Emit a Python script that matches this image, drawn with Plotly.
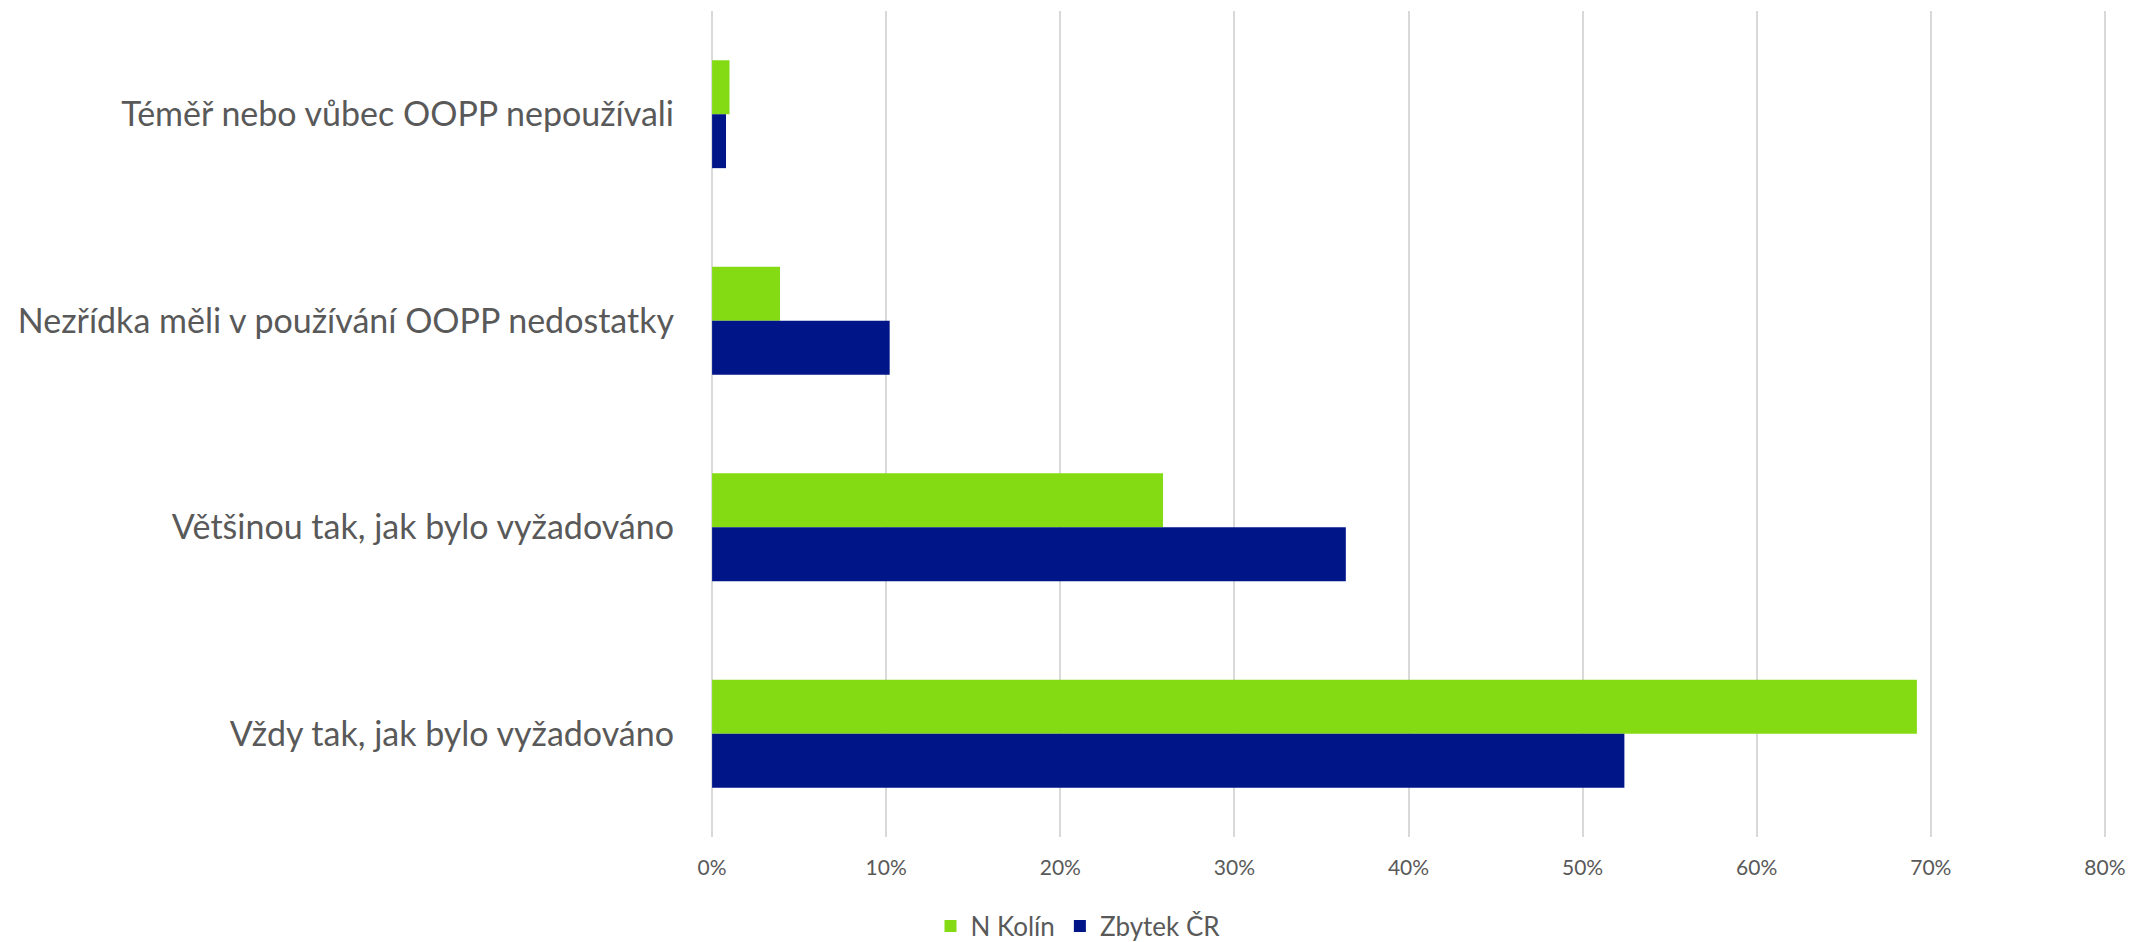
import plotly.graph_objects as go

categories = [
    "Téměř nebo vůbec OOPP nepoužívali",
    "Nezřídka měli v používání OOPP nedostatky",
    "Většinou tak, jak bylo vyžadováno",
    "Vždy tak, jak bylo vyžadováno",
]
n_kolin = [1.0, 3.9, 25.9, 69.2]
zbytek_cr = [0.8, 10.2, 36.4, 52.4]
tick_values = [0, 10, 20, 30, 40, 50, 60, 70, 80]
tick_labels = ["0%", "10%", "20%", "30%", "40%", "50%", "60%", "70%", "80%"]

GREEN = "#84DB14"
NAVY = "#001688"
TEXT = "#595959"
GRID = "#D9D9D9"
FONT = "Lato"

fig = go.Figure()
fig.add_trace(go.Bar(y=categories, x=n_kolin, name="N Kolín", orientation="h",
                     marker=dict(color=GREEN, line=dict(width=0))))
fig.add_trace(go.Bar(y=categories, x=zbytek_cr, name="Zbytek ČR", orientation="h",
                     marker=dict(color=NAVY, line=dict(width=0))))

W, H = 2131, 942
L, R, T, B = 710, 24, 11, 105
plot_w = W - L - R
plot_h = H - T - B

fig.update_layout(
    width=W, height=H,
    margin=dict(l=L, r=R, t=T, b=B, autoexpand=False),
    paper_bgcolor="white", plot_bgcolor="white",
    barmode="group", bargap=0.478, bargroupgap=0,
    font=dict(family=FONT, color=TEXT),
    showlegend=True,
    legend=dict(orientation="h", x=(1078 - L) / plot_w, xanchor="center",
                y=(T + plot_h - 926) / plot_h, yanchor="middle",
                font=dict(size=26, color=TEXT, family=FONT),
                traceorder="normal"),
    xaxis=dict(range=[-0.12, 80.12], tickvals=tick_values, ticktext=tick_labels,
               showgrid=True, gridcolor=GRID, gridwidth=1.5,
               zeroline=False, showline=False, ticks="",
               tickfont=dict(size=21, color=TEXT, family=FONT),
               ticklabelstandoff=16, fixedrange=True),
    yaxis=dict(autorange=False, range=[3.5, -0.5], categoryorder="array",
               categoryarray=categories, showgrid=False, zeroline=False,
               showline=False, ticks="",
               tickfont=dict(size=34, color=TEXT, family=FONT),
               ticklabelstandoff=35, fixedrange=True),
)

fig.write_html("out.html", config={"displayModeBar": False},
               post_script="document.body.style.margin='0';document.body.style.overflow='hidden';")
